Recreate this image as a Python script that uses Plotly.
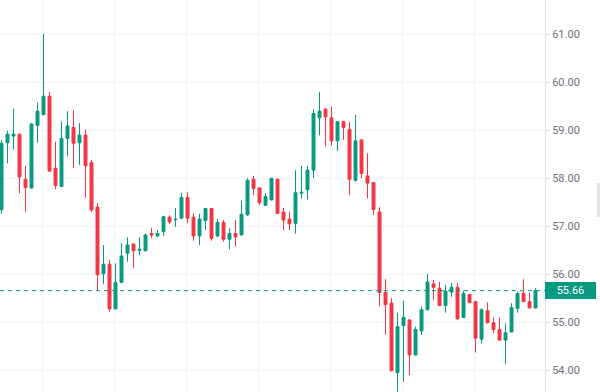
import plotly.graph_objects as go

opens = [57.35, 58.74, 58.88, 58.92, 57.98, 57.80, 59.10, 59.33, 59.71, 58.21,
         57.83, 58.83, 59.06, 58.74, 58.90, 58.33, 57.40, 56.01, 56.21, 55.28,
         55.83, 56.44, 56.63, 56.50, 56.49, 56.85, 56.80, 56.89, 57.19, 57.14,
         57.17, 57.60, 57.19, 56.80, 57.12, 57.37, 56.80, 57.08, 56.73, 56.85,
         56.82, 57.24, 57.98, 57.80, 57.44, 57.55, 57.98, 57.30, 57.15, 57.06,
         57.69, 57.76, 58.17, 59.26, 59.44, 59.26, 58.78, 59.18, 59.02, 57.96,
         58.80, 58.05, 57.91, 57.30, 55.62, 55.40, 53.95, 54.93, 55.05, 54.32,
         54.82, 55.26, 55.80, 55.71, 55.35, 55.63, 55.73, 55.10, 55.58, 55.43,
         54.65, 55.24, 54.99, 54.85, 54.63, 54.80, 55.29, 55.60, 55.43, 55.30]
highs = [58.80, 58.99, 59.45, 58.93, 58.26, 59.15, 59.58, 61.01, 59.80, 58.76,
         59.19, 59.40, 59.42, 59.15, 59.02, 58.38, 57.48, 56.61, 56.30, 56.23,
         56.65, 56.77, 56.64, 56.77, 56.85, 56.97, 56.92, 57.21, 57.23, 57.38,
         57.70, 57.71, 57.27, 57.26, 57.38, 57.38, 57.15, 57.13, 56.96, 57.13,
         57.53, 58.00, 58.05, 57.81, 57.69, 58.01, 57.99, 57.38, 57.31, 58.17,
         58.26, 58.26, 59.44, 59.80, 59.46, 59.49, 59.18, 59.18, 59.18, 59.32,
         58.81, 58.52, 57.92, 57.40, 55.90, 55.50, 55.20, 55.45, 55.06, 54.91,
         55.33, 56.01, 55.88, 55.84, 55.78, 55.82, 55.82, 55.66, 55.59, 55.44,
         55.29, 55.42, 55.10, 55.10, 54.98, 55.40, 55.64, 55.90, 55.62, 55.71]
lows = [57.26, 58.31, 58.60, 57.69, 57.30, 57.78, 58.74, 59.31, 58.14, 57.77,
        57.82, 58.46, 58.21, 58.28, 57.60, 57.30, 55.66, 55.80, 55.22, 55.27,
        55.82, 56.26, 56.13, 56.40, 56.48, 56.75, 56.79, 56.80, 57.05, 56.99,
        57.16, 57.06, 56.70, 56.61, 56.92, 56.70, 56.77, 56.68, 56.52, 56.58,
        56.81, 57.21, 57.65, 57.44, 57.43, 57.54, 57.26, 56.92, 56.92, 56.85,
        57.58, 57.56, 58.00, 58.90, 58.66, 58.68, 58.57, 58.80, 57.65, 57.93,
        58.00, 57.58, 57.24, 55.33, 54.74, 53.98, 53.50, 53.76, 53.90, 54.31,
        54.74, 55.25, 55.46, 55.34, 55.20, 55.53, 55.06, 55.09, 55.40, 54.37,
        54.56, 54.98, 54.78, 54.62, 54.13, 54.79, 55.20, 55.42, 55.29, 55.29]
closes = [58.73, 58.92, 58.92, 58.03, 57.81, 59.13, 59.40, 59.71, 58.15, 57.85,
          58.83, 59.09, 58.73, 58.90, 58.26, 57.34, 55.99, 56.21, 55.28, 55.83,
          56.38, 56.61, 56.49, 56.52, 56.82, 56.82, 56.85, 57.20, 57.09, 57.15,
          57.60, 57.17, 56.80, 57.15, 57.37, 56.75, 57.08, 56.73, 56.85, 56.78,
          57.25, 57.96, 57.79, 57.49, 57.62, 58.00, 57.27, 57.13, 57.05, 57.70,
          57.71, 58.17, 59.35, 59.40, 59.28, 58.78, 59.18, 59.06, 57.98, 58.78,
          58.10, 57.90, 57.35, 55.62, 55.37, 53.99, 54.91, 55.10, 54.32, 54.85,
          55.26, 55.84, 55.73, 55.35, 55.65, 55.73, 55.07, 55.60, 55.41, 54.67,
          55.26, 54.99, 54.85, 54.63, 54.78, 55.31, 55.60, 55.43, 55.30, 55.66]
bars = list(range(len(opens)))

last_price = 55.66
y_ticks = [54, 55, 56, 57, 58, 59, 60, 61]
y_tick_labels = ["54.00", "55.00", "56.00", "57.00", "58.00", "59.00", "60.00", "61.00"]
grid_bars = [6.9, 18.9, 30.9, 42.9, 54.9, 66.9, 78.9]

GREEN = "#089981"
RED = "#F23645"

fig = go.Figure()
fig.add_trace(go.Candlestick(
    x=bars, open=opens, high=highs, low=lows, close=closes,
    increasing=dict(line=dict(color=GREEN, width=1), fillcolor=GREEN),
    decreasing=dict(line=dict(color=RED, width=1), fillcolor=RED),
    whiskerwidth=0, showlegend=False, hoverinfo="skip",
))

fig.add_shape(type="line", xref="paper", x0=0, x1=1, yref="y", y0=last_price, y1=last_price,
              line=dict(color=GREEN, width=1, dash="4px,4px"), layer="above")

fig.add_annotation(xref="paper", x=1, xanchor="left", yref="y", y=last_price, yanchor="middle",
                   text=f"{last_price:.2f}", showarrow=False, align="center",
                   width=47, height=13, borderpad=2, borderwidth=0, bgcolor=GREEN,
                   font=dict(family="Roboto", size=11, color="white"))

# small scroll handle at right edge
fig.add_shape(type="rect", xref="paper", yref="paper",
              x0=1 + 52 / 545, x1=1 + 56 / 545, y0=(392 - 217) / 392, y1=(392 - 183) / 392,
              fillcolor="#e3e3e3", line=dict(width=0), layer="above")

fig.update_layout(
    width=600, height=392,
    margin=dict(l=0, r=55, t=0, b=0, pad=0),
    paper_bgcolor="white", plot_bgcolor="white",
    showlegend=False,
    xaxis=dict(range=[-0.25, 90.58], rangeslider=dict(visible=False),
               tickvals=grid_bars, showticklabels=False, ticks="",
               showgrid=True, gridcolor="#f3f4f6", gridwidth=1, zeroline=False, showline=False),
    yaxis=dict(side="right", range=[53.548, 61.715], tickvals=y_ticks, ticktext=y_tick_labels,
               showgrid=True, gridcolor="#f3f4f6", gridwidth=1, zeroline=False,
               showline=True, linecolor="#e0e3eb", linewidth=1,
               ticks="outside", ticklen=4, tickcolor="#d6d8de",
               tickfont=dict(family="Roboto", size=11, color="#6e707a")),
)

fig.write_html("out.html", config={"displayModeBar": False},
               post_script="document.body.style.margin='0';document.body.style.overflow='hidden';")
